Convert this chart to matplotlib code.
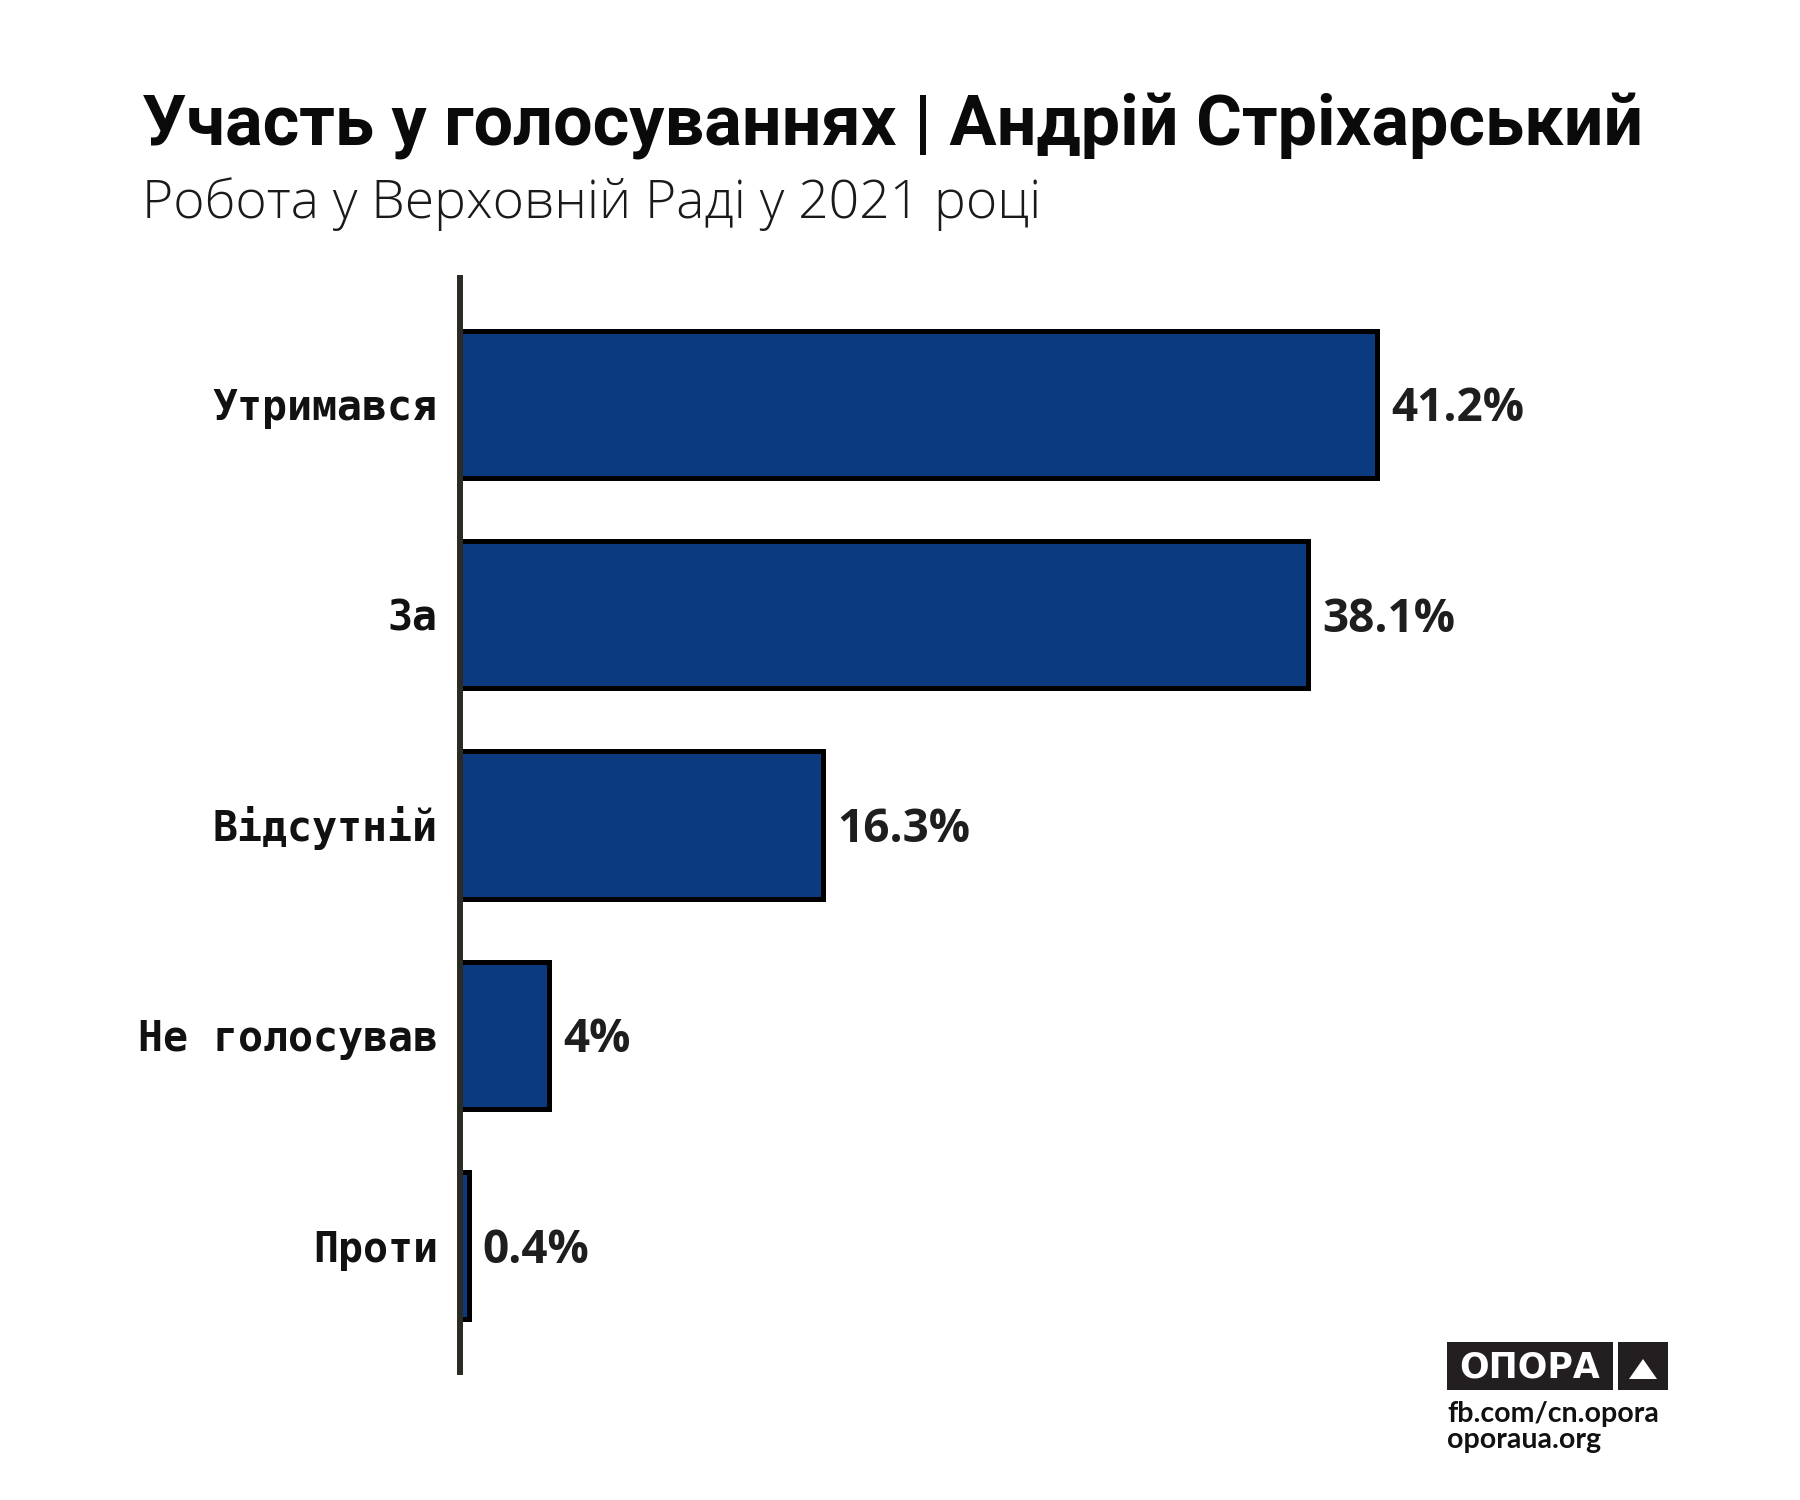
import matplotlib
matplotlib.use("Agg")
import matplotlib.pyplot as plt
from matplotlib.patches import Rectangle, Polygon

# data
categories = ["Утримався", "За", "Відсутній", "Не голосував", "Проти"]
shares = [41.2, 38.1, 16.3, 4.0, 0.4]

title = "Участь у голосуваннях | Андрій Стріхарський"
subtitle = "Робота у Верховній Раді у 2021 році"
logo_name = "ОПОРА"
logo_links = ["fb.com/cn.opora", "oporaua.org"]

W, H = 1800, 1500
BAR = "#0b3a7f"
AXIS = "#2a2b24"

fig = plt.figure(figsize=(W / 100, H / 100), dpi=100)
fig.patch.set_facecolor("white")


def fx(px):
    return px / W


def fy(py):
    return 1 - py / H


# axes placed so the axis line runs from y=278 to y=1372 px
ax = fig.add_axes([fx(460), fy(1372), fx(1336), 1094 / H])
ypos = list(range(len(categories)))
ax.barh(ypos, shares, height=0.7, color=BAR, edgecolor="black", linewidth=3.6, zorder=1)
ax.set_xlim(0, 60)
ax.set_ylim(len(categories) - 0.4, -0.6)

for s in ("top", "right", "bottom"):
    ax.spines[s].set_visible(False)
ax.spines["left"].set_color(AXIS)
ax.spines["left"].set_linewidth(4.3)
ax.spines["left"].set_zorder(3)
ax.set_xticks([])
ax.set_yticks([])

for y, cat, v in zip(ypos, categories, shares):
    ax.annotate(cat, xy=(0, y), xytext=(-16, -11.5), textcoords="offset points",
                ha="right", va="baseline", fontsize=30, fontweight="bold",
                family=["DejaVu Sans Mono"], color="#111111", annotation_clip=False)
    ax.annotate(f"{v:g}%", xy=(v, y), xytext=(10, -12.2), textcoords="offset points",
                ha="left", va="baseline", fontsize=33, fontweight="bold",
                family=["Open Sans", "DejaVu Sans"], color="#1e1e1e", annotation_clip=False)

# titles
fig.text(fx(142), fy(145), title, ha="left", va="baseline", fontsize=50.5,
         fontweight="bold", family=["Roboto", "DejaVu Sans"], color="#0a0a0a")
fig.text(fx(142), fy(218), subtitle, ha="left", va="baseline", fontsize=38.5,
         fontweight="light", family=["Open Sans", "DejaVu Sans"], color="#1a1a1a")

# logo
fig.patches.append(Rectangle((fx(1447), fy(1390)), fx(1613 - 1447), (1390 - 1342) / H,
                             transform=fig.transFigure, facecolor="#231f20", edgecolor="none"))
fig.patches.append(Rectangle((fx(1618), fy(1390)), fx(1668 - 1618), (1390 - 1342) / H,
                             transform=fig.transFigure, facecolor="#231f20", edgecolor="none"))
fig.patches.append(Polygon([(fx(1629), fy(1379)), (fx(1657), fy(1379)), (fx(1643), fy(1359))],
                           closed=True, transform=fig.transFigure, facecolor="white", edgecolor="none"))
fig.text(fx(1530), fy(1377), logo_name, ha="center", va="baseline", fontsize=25,
         fontweight="bold", family=["DejaVu Sans"], color="white")
fig.text(fx(1447), fy(1422), logo_links[0], ha="left", va="baseline", fontsize=20.5,
         fontweight="bold", family=["Lato", "DejaVu Sans"], color="#111111")
fig.text(fx(1447), fy(1448), logo_links[1], ha="left", va="baseline", fontsize=20.5,
         fontweight="bold", family=["Lato", "DejaVu Sans"], color="#111111")

fig.savefig("out.png", dpi=100, facecolor="white")
